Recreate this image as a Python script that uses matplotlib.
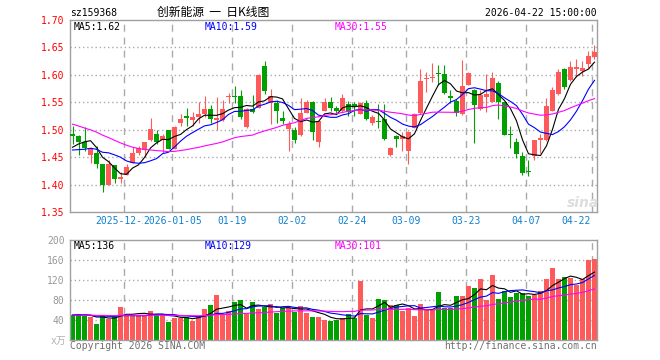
import numpy as np
import pandas as pd
import matplotlib
matplotlib.use('Agg')
import matplotlib.pyplot as plt

code = 'sz159368'
title = '创新能源  一  日K线图'
stamp = '2026-04-22 15:00:00'

# daily candles (88 trading days)
opens = [1.492, 1.489, 1.478, 1.454, 1.457, 1.437, 1.400, 1.435, 1.410, 1.418,
         1.440, 1.457, 1.463, 1.481, 1.492, 1.481, 1.499, 1.465, 1.513, 1.525,
         1.518, 1.523, 1.529, 1.538, 1.518, 1.518, 1.560, 1.562, 1.562, 1.505,
         1.538, 1.540, 1.617, 1.548, 1.549, 1.521, 1.502, 1.500, 1.490, 1.531,
         1.551, 1.478, 1.535, 1.551, 1.539, 1.535, 1.547, 1.547, 1.529, 1.549,
         1.512, 1.516, 1.519, 1.454, 1.488, 1.483, 1.462, 1.504, 1.530, 1.592,
         1.595, 1.604, 1.602, 1.561, 1.553, 1.528, 1.582, 1.572, 1.537, 1.560,
         1.551, 1.586, 1.550, 1.493, 1.478, 1.452, 1.425, 1.452, 1.482, 1.482,
         1.535, 1.565, 1.611, 1.590, 1.610, 1.607, 1.619, 1.633]
highs = [1.507, 1.490, 1.505, 1.468, 1.470, 1.438, 1.445, 1.436, 1.423, 1.438,
         1.469, 1.470, 1.478, 1.522, 1.500, 1.492, 1.500, 1.506, 1.529, 1.540,
         1.533, 1.550, 1.561, 1.545, 1.559, 1.555, 1.567, 1.580, 1.572, 1.540,
         1.564, 1.601, 1.625, 1.575, 1.555, 1.535, 1.516, 1.505, 1.557, 1.555,
         1.552, 1.517, 1.558, 1.560, 1.543, 1.565, 1.553, 1.551, 1.551, 1.555,
         1.526, 1.547, 1.547, 1.469, 1.490, 1.496, 1.497, 1.530, 1.611, 1.605,
         1.622, 1.618, 1.618, 1.572, 1.556, 1.627, 1.606, 1.574, 1.572, 1.602,
         1.606, 1.588, 1.551, 1.506, 1.484, 1.460, 1.445, 1.482, 1.493, 1.558,
         1.578, 1.610, 1.612, 1.625, 1.628, 1.625, 1.644, 1.654]
lows = [1.474, 1.453, 1.461, 1.440, 1.431, 1.386, 1.399, 1.403, 1.403, 1.417,
        1.439, 1.454, 1.450, 1.480, 1.474, 1.458, 1.464, 1.464, 1.506, 1.506,
        1.506, 1.512, 1.524, 1.513, 1.500, 1.515, 1.548, 1.548, 1.520, 1.504,
        1.530, 1.539, 1.565, 1.510, 1.512, 1.510, 1.462, 1.476, 1.488, 1.530,
        1.481, 1.469, 1.534, 1.535, 1.530, 1.533, 1.525, 1.525, 1.528, 1.518,
        1.508, 1.503, 1.482, 1.452, 1.469, 1.462, 1.437, 1.503, 1.529, 1.568,
        1.587, 1.581, 1.566, 1.549, 1.525, 1.527, 1.581, 1.476, 1.536, 1.533,
        1.550, 1.520, 1.490, 1.467, 1.448, 1.418, 1.415, 1.445, 1.458, 1.479,
        1.534, 1.564, 1.575, 1.588, 1.596, 1.598, 1.612, 1.628]
closes = [1.489, 1.477, 1.467, 1.467, 1.438, 1.400, 1.437, 1.410, 1.414, 1.432,
          1.457, 1.467, 1.477, 1.501, 1.478, 1.489, 1.465, 1.505, 1.520, 1.522,
          1.523, 1.529, 1.538, 1.520, 1.521, 1.538, 1.562, 1.560, 1.523, 1.538,
          1.532, 1.600, 1.570, 1.561, 1.535, 1.515, 1.510, 1.482, 1.531, 1.551,
          1.496, 1.515, 1.551, 1.540, 1.535, 1.558, 1.533, 1.543, 1.549, 1.519,
          1.524, 1.514, 1.483, 1.467, 1.483, 1.488, 1.496, 1.529, 1.589, 1.595,
          1.597, 1.601, 1.567, 1.558, 1.530, 1.580, 1.603, 1.545, 1.564, 1.566,
          1.595, 1.550, 1.491, 1.490, 1.455, 1.422, 1.423, 1.481, 1.484, 1.543,
          1.572, 1.606, 1.578, 1.615, 1.614, 1.612, 1.634, 1.641]
volumes = [50, 53, 48, 47, 32, 50, 43, 47, 67, 50,
           50, 50, 50, 58, 50, 50, 37, 45, 45, 47,
           39, 47, 62, 70, 90, 50, 58, 77, 80, 53,
           77, 62, 67, 72, 55, 65, 65, 57, 68, 55,
           47, 47, 40, 39, 40, 45, 52, 45, 119, 50,
           45, 82, 80, 70, 70, 58, 65, 48, 72, 60,
           60, 97, 65, 65, 88, 88, 108, 105, 122, 80,
           130, 82, 98, 87, 95, 95, 88, 90, 99, 122,
           145, 122, 126, 124, 110, 123, 160, 162]

# closes / volumes before the window, estimated from where the MA lines start
hist_close = [1.58, 1.575, 1.57, 1.56, 1.565, 1.57, 1.56, 1.555, 1.56, 1.565,
              1.54, 1.53, 1.525, 1.515, 1.51, 1.50, 1.49, 1.475, 1.47, 1.46,
              1.47, 1.46, 1.45, 1.455, 1.455, 1.447, 1.447, 1.457, 1.50]
hist_volume = [52, 48, 55, 47, 50, 53, 49, 46, 51, 54,
               48, 50, 47, 52, 49, 51, 46, 50, 53, 48,
               50, 47, 52, 49, 51, 48, 50, 52, 49]

date_idx = [9, 17, 27, 37, 47, 56, 66, 76, 87]
date_lab = ['2025-12-22', '2026-01-05', '01-19', '02-02', '02-24',
            '03-09', '03-23', '04-07', '04-22']

price_ma_lab = ['1.62', '1.59', '1.55']
vol_ma_lab = ['136', '129', '101']

RED = '#ff5a5a'
GREEN = '#00a000'
FRAME = '#a0a0a0'
GRID = '#aaaaaa'
MONO = 'DejaVu Sans Mono'
ma_cols = ['black', '#0000ff', '#ff00ff']
ma_n = [5, 10, 30]

W, H = 660, 360
fig = plt.figure(figsize=(6.6, 3.6), dpi=100)
ax = fig.add_axes([70 / W, 1 - 212 / H, 527 / W, 192 / H])
axv = fig.add_axes([70 / W, 1 - 340 / H, 527 / W, 100 / H])

o = np.array(opens); h = np.array(highs); l = np.array(lows); c = np.array(closes)
v = np.array(volumes)
x = np.arange(len(c))
col = np.where(c >= o, RED, GREEN)

for a in (ax, axv):
    a.set_xlim(-0.42, len(c) - 0.58)
    for s in a.spines.values():
        s.set_color(FRAME)
        s.set_linewidth(1)
    for i in date_idx:
        a.axvline(i - 0.35, color=GRID, lw=1, ls=(0, (5, 4.3)), zorder=0)
    a.set_xticks([])
    a.tick_params(length=0, pad=4)

# price panel
ax.set_ylim(1.35, 1.70)
for yv in np.arange(1.40, 1.66, 0.05):
    ax.axhline(yv, color=GRID, lw=1, ls=(0, (1, 2)), zorder=0)
ax.vlines(x, l, h, colors=col, lw=0.8, zorder=2)
ax.bar(x, np.maximum(np.abs(c - o), 0.0018), bottom=np.minimum(o, c),
       width=0.82, color=col, lw=0, zorder=3)
full_c = pd.Series(hist_close + closes)
for n, mc in zip(ma_n, ma_cols):
    ma = full_c.rolling(n).mean().values[len(hist_close):]
    ax.plot(x, ma, color=mc, lw=0.8, zorder=4)
yt = np.arange(1.35, 1.701, 0.05)
ax.set_yticks(yt)
ax.set_yticklabels(['%.2f' % t for t in yt], color='red', fontsize=7, family=MONO)

# date labels; later ones sit on a white box, so 2026-01-05 hides the tail of 2025-12-22
for i, lab in zip(date_idx, date_lab):
    if i == date_idx[-1]:
        ax.text(i - 0.6, -0.047, lab, transform=ax.get_xaxis_transform(), ha='right',
                va='center', fontsize=7, family=MONO, color='#1080d0')
    else:
        ax.text(i - 0.35, -0.047, lab, transform=ax.get_xaxis_transform(), ha='center',
                va='center', fontsize=7, family=MONO, color='#1080d0',
                bbox=dict(facecolor='white', edgecolor='none', pad=0))

# volume panel
axv.set_ylim(0, 200)
for yv in [40, 80, 120, 160]:
    axv.axhline(yv, color=GRID, lw=1, ls=(0, (1, 2)), zorder=0)
axv.bar(x, v, width=0.82, color=col, lw=0, zorder=2)
full_v = pd.Series(hist_volume + volumes)
for n, mc in zip(ma_n, ma_cols):
    ma = full_v.rolling(n).mean().values[len(hist_volume):]
    axv.plot(x, ma, color=mc, lw=0.8, zorder=4)
vt = [40, 80, 120, 160, 200]
axv.set_yticks(vt)
axv.set_yticklabels([str(t) for t in vt], color='#999999', fontsize=7, family=MONO)

def px(xp, yp, s, **kw):
    kw.setdefault('fontsize', 7)
    kw.setdefault('family', MONO)
    kw.setdefault('va', 'center')
    fig.text(xp / W, 1 - yp / H, s, **kw)

px(70, 13, code)
px(213, 12, title, ha='center', fontsize=8.5, family=['Noto Sans CJK SC', 'DejaVu Sans'])
px(597, 13, stamp, ha='right')

ma_x = [74, 205, 335]
for xp, n, mc, lab in zip(ma_x, ma_n, ma_cols, price_ma_lab):
    px(xp, 27, 'MA%d:%s' % (n, lab), color=mc)
for xp, n, mc, lab in zip(ma_x, ma_n, ma_cols, vol_ma_lab):
    px(xp, 246, 'MA%d:%s' % (n, lab), color=mc)

px(66, 341, 'x万', ha='right', color='#b0b0b0', family=[MONO, 'Noto Sans CJK SC'])
px(70, 346, 'Copyright 2026 SINA.COM', color='#707070')
px(597, 346, 'http://finance.sina.com.cn', ha='right', color='#707070')
px(583, 203, 'sina', ha='center', fontsize=10, family='DejaVu Sans', style='italic',
   weight='bold', color='#dddddd')

fig.savefig('out.png', dpi=100)
